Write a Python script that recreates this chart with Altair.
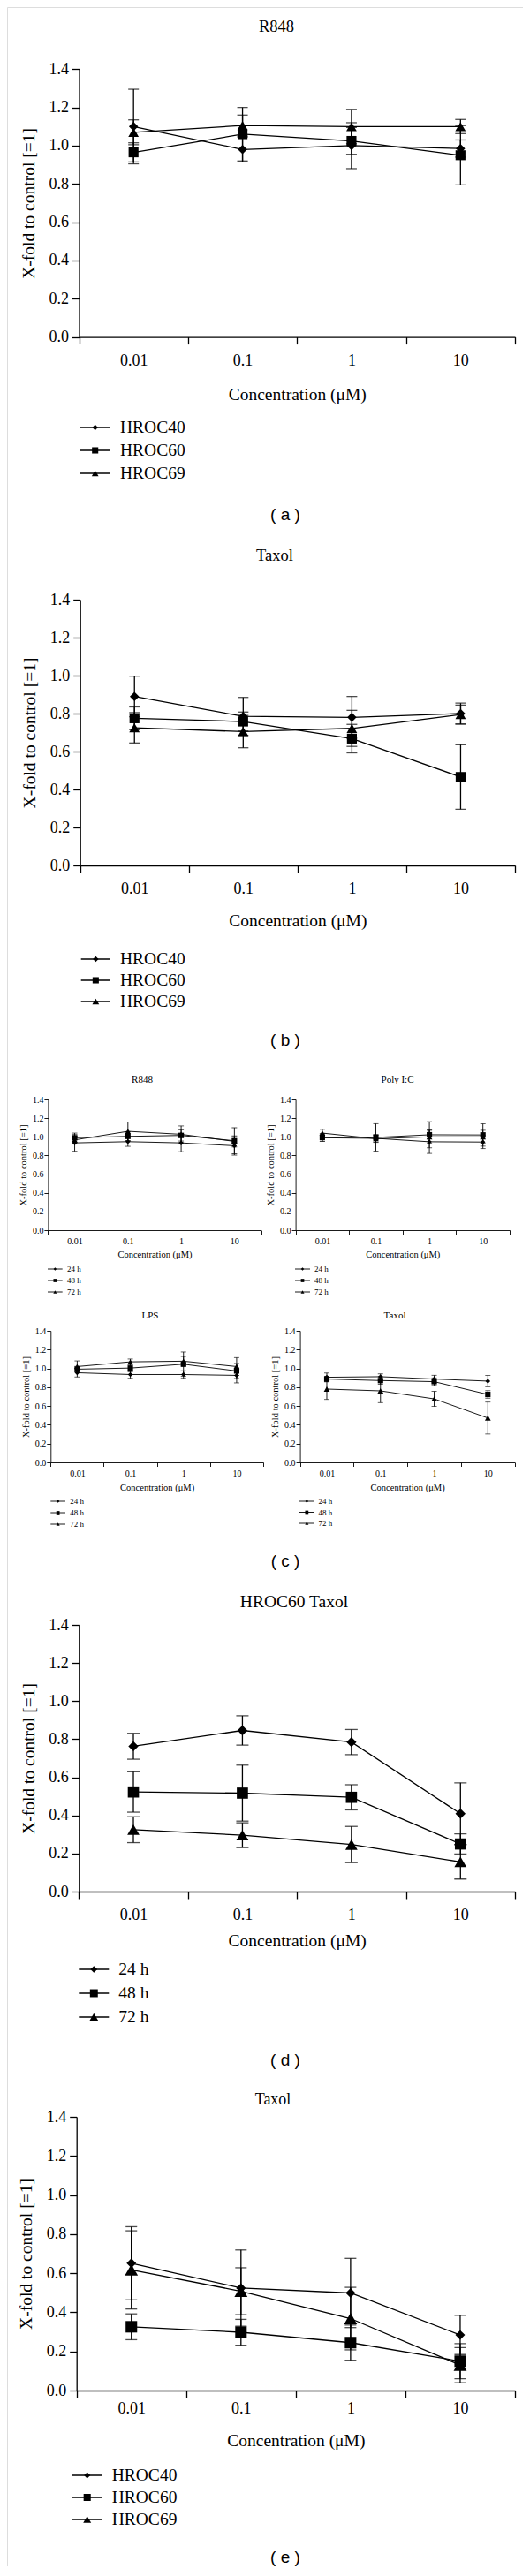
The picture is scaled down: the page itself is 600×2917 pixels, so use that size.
import altair as alt
import pandas as pd

CONC = ["0.01", "0.1", "1", "10"]
CELLS = ["HROC40", "HROC60", "HROC69"]
TIMES = ["24 h", "48 h", "72 h"]
SHAPES = ["diamond", "square", "triangle-up"]
YTICKS = [0.0, 0.2, 0.4, 0.6, 0.8, 1.0, 1.2, 1.4]

# (a) R848
a_mean = {"HROC40": [1.10, 0.98, 1.00, 0.985],
          "HROC60": [0.965, 1.06, 1.025, 0.95],
          "HROC69": [1.07, 1.105, 1.10, 1.10]}
a_sd = {"HROC40": [0.195, 0.065, 0.12, 0.045],
        "HROC60": [0.05, 0.14, 0.07, 0.155],
        "HROC69": [0.065, 0.055, 0.09, 0.037]}
# (b) Taxol
b_mean = {"HROC40": [0.89, 0.785, 0.78, 0.80],
          "HROC60": [0.775, 0.758, 0.668, 0.466],
          "HROC69": [0.725, 0.705, 0.722, 0.795]}
b_sd = {"HROC40": [0.107, 0.10, 0.11, 0.055],
        "HROC60": [0.06, 0.05, 0.075, 0.17],
        "HROC69": [0.08, 0.085, 0.095, 0.05]}
# (c) R848
cr_mean = {"24 h": [0.935, 0.948, 0.935, 0.904],
           "48 h": [0.99, 1.005, 1.015, 0.958],
           "72 h": [0.967, 1.059, 1.027, 0.951]}
cr_sd = {"24 h": [0.09, 0.05, 0.095, 0.10],
         "48 h": [0.05, 0.05, 0.06, 0.14],
         "72 h": [0.04, 0.10, 0.09, 0.06]}
# (c) Poly I:C
cp_mean = {"24 h": [0.99, 0.984, 0.947, 0.944],
           "48 h": [0.994, 0.994, 1.022, 1.02],
           "72 h": [1.04, 0.98, 1.0, 1.0]}
cp_sd = {"24 h": [0.04, 0.04, 0.125, 0.07],
         "48 h": [0.04, 0.147, 0.14, 0.12],
         "72 h": [0.04, 0.04, 0.07, 0.07]}
# (c) LPS
cl_mean = {"24 h": [0.954, 0.935, 0.935, 0.926],
           "48 h": [0.992, 1.004, 1.045, 0.973],
           "72 h": [1.02, 1.07, 1.077, 1.02]}
cl_sd = {"24 h": [0.045, 0.04, 0.04, 0.08],
         "48 h": [0.03, 0.04, 0.13, 0.08],
         "72 h": [0.06, 0.03, 0.05, 0.095]}
# (c) Taxol
ct_mean = {"24 h": [0.906, 0.912, 0.887, 0.865],
           "48 h": [0.887, 0.871, 0.859, 0.723],
           "72 h": [0.78, 0.761, 0.676, 0.472]}
ct_sd = {"24 h": [0.045, 0.03, 0.04, 0.06],
         "48 h": [0.03, 0.04, 0.04, 0.04],
         "72 h": [0.11, 0.125, 0.08, 0.17]}
# (d) HROC60 Taxol
d_mean = {"24 h": [0.763, 0.846, 0.785, 0.409],
          "48 h": [0.523, 0.517, 0.495, 0.25],
          "72 h": [0.325, 0.296, 0.247, 0.156]}
d_sd = {"24 h": [0.068, 0.077, 0.066, 0.162],
        "48 h": [0.106, 0.147, 0.066, 0.053],
        "72 h": [0.068, 0.065, 0.095, 0.09]}
# (e) Taxol
e_mean = {"HROC40": [0.651, 0.524, 0.499, 0.284],
          "HROC60": [0.326, 0.298, 0.245, 0.15],
          "HROC69": [0.617, 0.508, 0.368, 0.13]}
e_sd = {"HROC40": [0.187, 0.195, 0.177, 0.10],
        "HROC60": [0.066, 0.066, 0.09, 0.09],
        "HROC69": [0.2, 0.12, 0.16, 0.09]}

SERIF = "Liberation Serif"
SANS = "Liberation Sans"
INK = "#000000"
W, H = 584, 2898          # whole figure = one view; page margin is 8 px
M = 8

BIG = dict(lf=18, tf=19.5, ts=8, lw=1.3, xlp=10, xtp=20, ylp=4, ytp=12.5, cap=12,
           ms=[110, 140, 150], title_fs=18.5, leg_fs=19.5, leg_ms=[40, 60, 60])
SMALL = dict(lf=10, tf=10.5, ts=4.5, lw=0.9, xlp=2.9, xtp=4.8, ylp=1, ytp=5.2, cap=6,
             ms=[30, 45, 40], title_fs=11, leg_fs=9, leg_ms=[12, 16, 16])


def frame(series, mean, sd):
    rows = []
    for s in series:
        for c, m, e in zip(CONC, mean[s], sd[s]):
            rows.append({"series": s, "conc": c, "mean": m, "lo": m - e, "hi": m + e})
    return pd.DataFrame(rows)


def label(text, xy, font, size):
    return alt.Chart(pd.DataFrame({"t": [text]})).mark_text(
        font=font, fontSize=size, color=INK, align="center", baseline="middle").encode(
        x=alt.value(xy[0] - M), y=alt.value(xy[1] - M), text="t:N")


def panel(series, mean, sd, box, st, title, title_xy, leg, cap=None):
    L, R, T, B = [v - M for v in box]
    df = frame(series, mean, sd)
    xax = alt.Axis(orient="bottom", offset=B - H, title="Concentration (μM)", labelAngle=0,
                   tickBand="extent", labelFont=SERIF, labelFontSize=st["lf"],
                   labelPadding=st["xlp"], titleFont=SERIF, titleFontSize=st["tf"],
                   titleFontWeight="normal", titlePadding=st["xtp"], tickSize=st["ts"],
                   tickWidth=st["lw"], domainWidth=st["lw"], domainColor=INK, tickColor=INK,
                   labelColor=INK, titleColor=INK, grid=False)
    yax = alt.Axis(orient="left", offset=-L, title="X-fold to control [=1]", values=YTICKS,
                   format=".1f", labelFont=SERIF, labelFontSize=st["lf"],
                   labelPadding=st["ylp"], titleFont=SERIF, titleFontSize=st["tf"],
                   titleFontWeight="normal", titlePadding=st["ytp"], tickSize=st["ts"],
                   tickWidth=st["lw"], domainWidth=st["lw"], domainColor=INK, tickColor=INK,
                   labelColor=INK, titleColor=INK, grid=False)
    x = alt.X("conc:N", sort=CONC,
              scale=alt.Scale(type="band", domain=CONC, range=[L, R],
                              paddingInner=0, paddingOuter=0), axis=xax)
    ysc = alt.Scale(domain=[0, 1.4], range=[B, T], nice=False, zero=False)
    shape = alt.Shape("series:N", scale=alt.Scale(domain=series, range=SHAPES), legend=None)
    base = alt.Chart(df)
    rule = base.mark_rule(color=INK, strokeWidth=st["lw"]).encode(
        x=x, y=alt.Y("lo:Q", scale=ysc, axis=yax), y2="hi:Q")
    cap_lo = base.mark_tick(color=INK, size=st["cap"], thickness=st["lw"]).encode(
        x=x, y=alt.Y("lo:Q", scale=ysc, axis=yax))
    cap_hi = base.mark_tick(color=INK, size=st["cap"], thickness=st["lw"]).encode(
        x=x, y=alt.Y("hi:Q", scale=ysc, axis=yax))
    line = base.mark_line(color=INK, strokeWidth=st["lw"]).encode(
        x=x, y=alt.Y("mean:Q", scale=ysc, axis=yax), detail="series:N")
    pts = base.mark_point(filled=True, opacity=1, color=INK).encode(
        x=x, y=alt.Y("mean:Q", scale=ysc, axis=yax), shape=shape,
        size=alt.Size("series:O", scale=alt.Scale(domain=series, range=st["ms"]), legend=None))
    data_layer = alt.layer(rule, cap_lo, cap_hi, line, pts)

    # hand-made legend (line + symbol + label), as in the original figure
    ldf = pd.DataFrame({"series": series})
    ly = alt.Y("series:N", sort=series,
               scale=alt.Scale(type="point", domain=series,
                               range=[leg["y0"] - M, leg["y1"] - M], padding=0),
               axis=None)
    lb = alt.Chart(ldf)
    lr = lb.mark_rule(color=INK, strokeWidth=st["lw"]).encode(
        y=ly, x=alt.value(leg["x0"] - M), x2=alt.value(leg["x1"] - M))
    lp = lb.mark_point(filled=True, opacity=1, color=INK).encode(
        y=ly, x=alt.value((leg["x0"] + leg["x1"]) / 2 - M), shape=shape,
        size=alt.Size("series:O", scale=alt.Scale(domain=series, range=st["leg_ms"]), legend=None))
    lt = lb.mark_text(align="left", baseline="middle", font=SERIF, fontSize=st["leg_fs"],
                      color=INK).encode(y=ly, x=alt.value(leg["xt"] - M), text="series:N")
    legend_layer = alt.layer(lr, lp, lt)

    out = [data_layer, legend_layer, label(title, title_xy, SERIF, st["title_fs"])]
    if cap:
        out.append(label(cap[0], cap[1], SANS, 19))
    return out


layers = []
# (a)
layers += panel(CELLS, a_mean, a_sd, (89.5, 583, 78.3, 381.6), BIG, "R848", (313, 30),
                dict(x0=90.7, x1=124.7, xt=136, y0=484, y1=536), ("( a )", (323, 583)))
# (b)
layers += panel(CELLS, b_mean, b_sd, (90.7, 583, 679, 980), dict(BIG, xlp=9.7, xtp=17.3),
                "Taxol", (311, 629),
                dict(x0=91.7, x1=125, xt=136, y0=1086, y1=1134), ("( b )", (323, 1178)))
# (c)
layers += panel(TIMES, cr_mean, cr_sd, (54.4, 295.5, 1245, 1393), SMALL, "R848", (161, 1223),
                dict(x0=54, x1=70.7, xt=76, y0=1437, y1=1463))
layers += panel(TIMES, cp_mean, cp_sd, (334.6, 577, 1245, 1393), SMALL, "Poly I:C", (450, 1223),
                dict(x0=334, x1=351, xt=356, y0=1437, y1=1463))
layers += panel(TIMES, cl_mean, cl_sd, (57.3, 298, 1507, 1656), dict(SMALL, xtp=5.8), "LPS",
                (170, 1490), dict(x0=57.3, x1=74, xt=79.3, y0=1700, y1=1726),
                ("( c )", (323, 1768)))
layers += panel(TIMES, ct_mean, ct_sd, (339.6, 582.7, 1507, 1656), dict(SMALL, xtp=5.8), "Taxol",
                (447, 1490), dict(x0=338.7, x1=356, xt=360.5, y0=1700, y1=1725))
# (d)
layers += panel(TIMES, d_mean, d_sd, (89.3, 583, 1840, 2142),
                dict(BIG, xlp=9.7, xtp=10.3, cap=14, ms=[130, 190, 280], title_fs=19.5,
                     leg_ms=[60, 100, 100]),
                "HROC60 Taxol", (333, 1814),
                dict(x0=89.3, x1=123.3, xt=134.3, y0=2230, y1=2284), ("( d )", (323, 2333)))
# (e)
layers += panel(CELLS, e_mean, e_sd, (86.7, 583, 2397, 2707),
                dict(BIG, xlp=3, xtp=18, cap=13, ms=[120, 220, 190], title_fs=18,
                     leg_ms=[50, 80, 80]),
                "Taxol", (309, 2378),
                dict(x0=81.7, x1=115.7, xt=126.7, y0=2803, y1=2853), ("( e )", (323, 2896)))

chart = alt.layer(*layers).resolve_scale(
    x="independent", y="independent", shape="independent", size="independent"
).properties(
    width=W, height=H, padding=0, autosize=alt.AutoSizeParams(type="none")
).configure_view(stroke=None).configure(font=SERIF)

chart.save("out.html", embed_options={"renderer": "svg", "actions": False})
